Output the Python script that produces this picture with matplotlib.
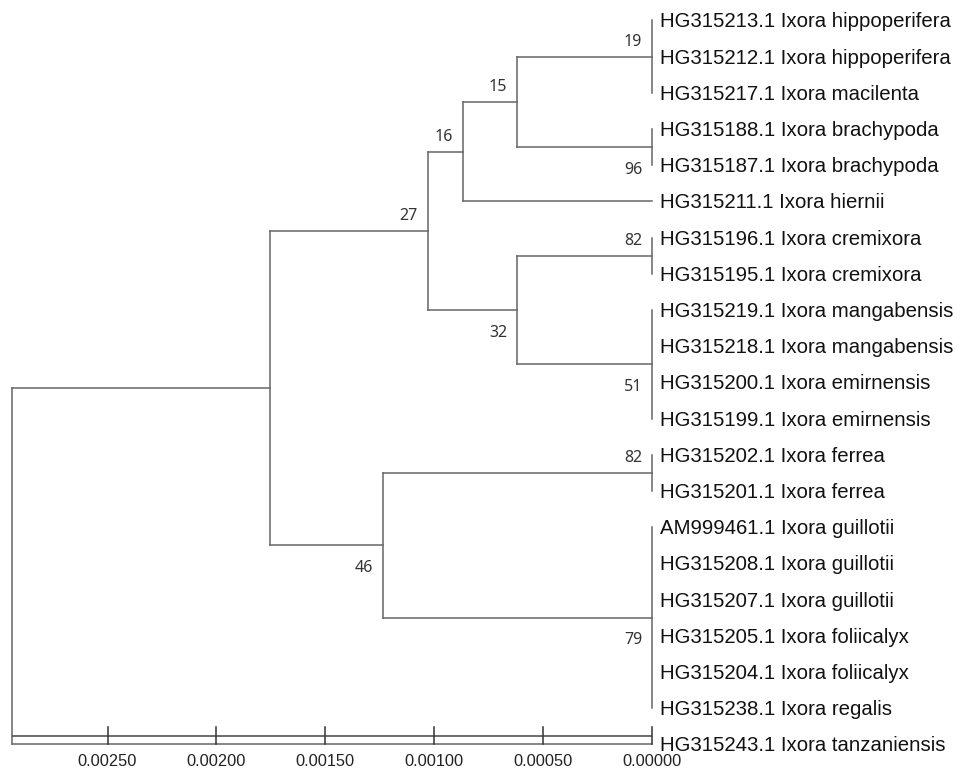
import matplotlib
matplotlib.use("Agg")
import matplotlib.pyplot as plt

# ---------------- data ----------------
taxa = [
    "HG315213.1 Ixora hippoperifera",
    "HG315212.1 Ixora hippoperifera",
    "HG315217.1 Ixora macilenta",
    "HG315188.1 Ixora brachypoda",
    "HG315187.1 Ixora brachypoda",
    "HG315211.1 Ixora hiernii",
    "HG315196.1 Ixora cremixora",
    "HG315195.1 Ixora cremixora",
    "HG315219.1 Ixora mangabensis",
    "HG315218.1 Ixora mangabensis",
    "HG315200.1 Ixora emirnensis",
    "HG315199.1 Ixora emirnensis",
    "HG315202.1 Ixora ferrea",
    "HG315201.1 Ixora ferrea",
    "AM999461.1 Ixora guillotii",
    "HG315208.1 Ixora guillotii",
    "HG315207.1 Ixora guillotii",
    "HG315205.1 Ixora foliicalyx",
    "HG315204.1 Ixora foliicalyx",
    "HG315238.1 Ixora regalis",
    "HG315243.1 Ixora tanzaniensis",
]

# internal nodes: children (taxon index or node name), depth from tips, bootstrap
node_names = ["c19", "c96", "c15", "c16", "c82a", "c51", "c32", "c27",
              "c82b", "c79", "c46", "cA", "root"]
node_children = [
    [0, 1, 2],
    [3, 4],
    ["c19", "c96"],
    ["c15", 5],
    [6, 7],
    [8, 9, 10, 11],
    ["c82a", "c51"],
    ["c16", "c32"],
    [12, 13],
    [14, 15, 16, 17, 18, 19],
    ["c82b", "c79"],
    ["c27", "c46"],
    ["cA", 20],
]
node_depths = [0.0, 0.0, 0.000618, 0.000866, 0.0, 0.0, 0.000618, 0.001029,
               0.0, 0.0, 0.001237, 0.001752, 0.002937]
node_support = [19, 96, 15, 16, 82, 51, 32, 27, 82, 79, 46, None, None]

scale_ticks = [0.0025, 0.0020, 0.0015, 0.0010, 0.0005, 0.0]
scale_labels = ["0.00250", "0.00200", "0.00150", "0.00100", "0.00050", "0.00000"]

# ---------------- figure ----------------
fig = plt.figure(figsize=(9.63, 7.69), dpi=100)
ax = fig.add_axes([0, 0, 1, 1])
ax.set_xlim(0.0029936, -0.0014279)
ax.set_ylim(20.682, -0.5608)
ax.axis("off")

line_col = "#666666"
lw = 1.1

nodes = {n: (c, d, s) for n, c, d, s in zip(node_names, node_children, node_depths, node_support)}
ypos = {}
xpos = {}


def place(key):
    if isinstance(key, int):
        ypos[key] = float(key)
        xpos[key] = 0.0
        return ypos[key]
    ch, d, _ = nodes[key]
    ys = [place(c) for c in ch]
    ypos[key] = (ys[0] + ys[-1]) / 2.0
    xpos[key] = d
    return ypos[key]


place("root")

for n in node_names:
    ch, d, s = nodes[n]
    # vertical connector
    ax.plot([d, d], [ypos[ch[0]], ypos[ch[-1]]], color=line_col, lw=lw,
            solid_capstyle="projecting")
    for c in ch:
        ax.plot([d, xpos[c]], [ypos[c], ypos[c]], color=line_col, lw=lw,
                solid_capstyle="projecting")

# bootstrap labels
parent_of = {}
for n in node_names:
    for i, c in enumerate(nodes[n][0]):
        parent_of[c] = (n, i)

for n in node_names:
    s = nodes[n][2]
    if s is None:
        continue
    par, idx = parent_of[n]
    dy = 10.8 if idx == 0 else -26.7  # pixels, positive = up
    ax.annotate(str(s), (xpos[n], ypos[n]), xytext=(-10 * 0.72, dy * 0.72),
                textcoords="offset points", ha="right", va="baseline",
                fontsize=11.5, family="Noto Sans", color="#333333")

# taxon labels
for i, name in enumerate(taxa):
    ax.annotate(name, (0.0, ypos[i]), xytext=(8 * 0.72, -7 * 0.72),
                textcoords="offset points", ha="left", va="baseline",
                fontsize=14.7, family="Liberation Sans", color="#111111")

# scale axis
axis_y = 19.77
tick_top = 19.52
tick_bot = 20.0
ax.plot([scale_ticks[0] + 0.000437, scale_ticks[-1]], [axis_y, axis_y],
        color="#444444", lw=lw, solid_capstyle="butt")
for t, lab in zip(scale_ticks, scale_labels):
    ax.plot([t, t], [tick_top, tick_bot], color="#333333", lw=lw)
    ax.annotate(lab, (t, tick_bot), xytext=(0, -21.7 * 0.72),
                textcoords="offset points", ha="center", va="baseline",
                fontsize=11.8, family="Liberation Sans", color="#222222")

fig.savefig("out.png", dpi=100, facecolor="white")
